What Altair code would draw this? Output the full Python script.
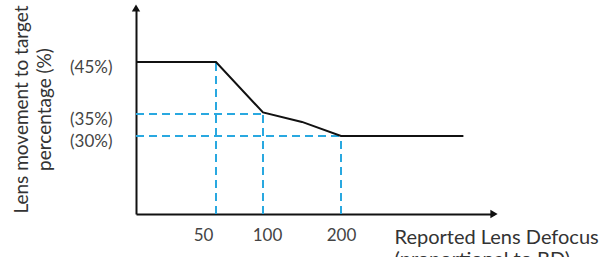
import altair as alt
import pandas as pd

# Curve: lens movement (%) vs reported defocus
curve_x = [0, 50, 100, 150, 200, 280]
curve_y = [45, 45, 35.3, 33.2, 30, 30]

# Dashed guide lines
h_level = [35, 30]
h_end = [100, 200]
v_at = [50, 100, 200]
v_top = [45, 35, 30]

x_ticks = [50, 100, 200]
y_ticks = [30, 35, 45]

# schematic (non-linear) axes: piecewise scales
x_dom = [0, 50, 100, 200, 300]
x_rng = [0, 80, 127, 205, 358]
y_dom = [0, 30, 35, 45, 60]
y_rng = [206, 128, 106, 54, 0]

FONT = "Lato"
BLUE = "#29a8e0"

xs = alt.Scale(type="linear", domain=x_dom, range=x_rng, nice=False, zero=False)
ys = alt.Scale(type="linear", domain=y_dom, range=y_rng, nice=False, zero=False)

curve = pd.DataFrame({"x": curve_x, "y": curve_y})
rules = pd.DataFrame(
    [{"x": 0, "x2": e, "y": l, "y2": l} for l, e in zip(h_level, h_end)]
    + [{"x": a, "x2": a, "y": 0, "y2": t} for a, t in zip(v_at, v_top)]
)
arrows = pd.DataFrame({"x": [x_dom[-1], 0], "y": [0, y_dom[-1]],
                       "shape": ["triangle-right", "triangle-up"]})

x_axis = alt.Axis(values=x_ticks, grid=False, ticks=False, domain=True,
                  domainColor="#111", domainWidth=2,
                  labelFont=FONT, labelFontSize=17, labelColor="#444",
                  labelPadding=13,
                  labelOffset={"condition": [
                      {"test": "datum.value == 50", "value": -13},
                      {"test": "datum.value == 100", "value": 4}],
                      "value": 0},
                  title=["Reported Lens Defocus", "(proportional to BD)"],
                  titleFont=FONT, titleFontSize=20, titleFontWeight="normal",
                  titleColor="#333", titleAlign="left", titleAnchor="start",
                  titleBaseline="alphabetic", titleX=258, titleY=29,
                  titleLineHeight=22)
y_axis = alt.Axis(values=y_ticks, grid=False, ticks=False, domain=True,
                  domainColor="#111", domainWidth=2,
                  labelFont=FONT, labelFontSize=17, labelColor="#444",
                  labelPadding=24, labelOffset=5,
                  labelExpr="'(' + datum.value + '%)'",
                  title=["Lens movement to target", "percentage (%)"],
                  titleFont=FONT, titleFontSize=19, titleFontWeight="normal",
                  titleColor="#333", titleAngle=270, titleAlign="center",
                  titleBaseline="middle", titleX=-115, titleY=101,
                  titleLineHeight=23)

base_rules = alt.Chart(rules).mark_rule(color=BLUE, strokeWidth=2, strokeDash=[8, 5]).encode(
    x=alt.X("x:Q", scale=xs, axis=x_axis),
    x2="x2:Q",
    y=alt.Y("y:Q", scale=ys, axis=y_axis),
    y2="y2:Q",
)

line = alt.Chart(curve).mark_line(color="#111", strokeWidth=2).encode(
    x=alt.X("x:Q", scale=xs),
    y=alt.Y("y:Q", scale=ys),
)

arrow = alt.Chart(arrows).mark_point(filled=True, color="#111", opacity=1, size=70).encode(
    x=alt.X("x:Q", scale=xs),
    y=alt.Y("y:Q", scale=ys),
    shape=alt.Shape("shape:N", scale=None, legend=None),
)

chart = (base_rules + line + arrow).properties(
    width=358, height=206,
    autosize=alt.AutoSizeParams(type="none"),
    padding={"left": 136, "top": 8, "right": 106, "bottom": 43},
    background="white",
).configure_view(stroke=None)

chart.save("out.html", embed_options={"renderer": "svg", "actions": False})
